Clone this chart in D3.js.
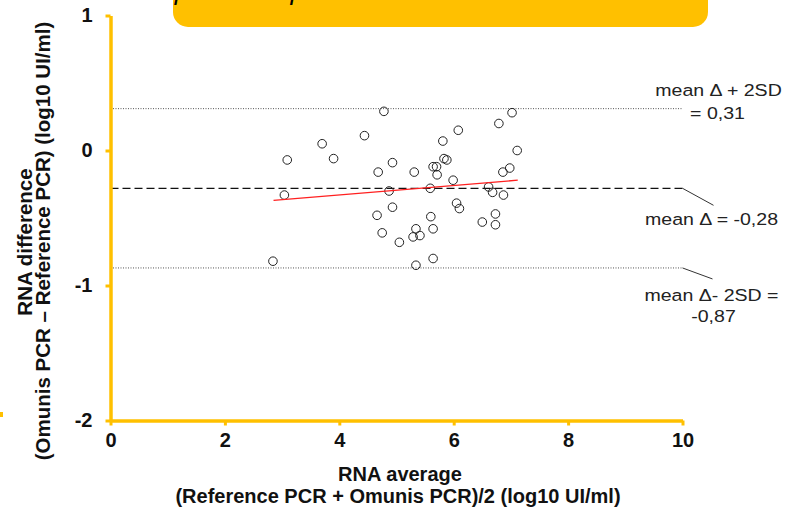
<!DOCTYPE html>
<html>
<head>
<meta charset="utf-8">
<script src="https://cdn.jsdelivr.net/npm/d3@7"></script>
<style>
  body { margin: 0; background: #fff; }
  svg { display: block; font-family: Arial, "Liberation Sans", sans-serif; }
</style>
</head>
<body>
<div id="viz"></div>
<script>
// data
var xAvg = [2.84, 3.04, 3.09, 3.70, 3.90, 4.44, 4.78, 4.68, 4.93, 4.87, 4.93, 4.66, 4.75, 5.05,
            5.31, 5.34, 5.29, 5.41, 5.34, 5.59, 5.60, 5.64, 5.64, 5.64, 5.71, 5.70, 5.81, 5.83,
            5.88, 5.99, 6.05, 6.10, 6.08, 6.50, 6.61, 6.68, 6.73, 6.73, 6.79, 6.87, 6.86, 6.98,
            7.02, 7.11];
var yDiff = [-0.82, -0.33, -0.07, 0.05, -0.06, 0.11, 0.29, -0.16, -0.09, -0.30, -0.42, -0.48, -0.61, -0.68,
             -0.16, -0.58, -0.64, -0.63, -0.85, -0.28, -0.49, -0.58, -0.80, -0.12, -0.18, -0.12, 0.07, -0.06,
             -0.07, -0.22, -0.39, -0.43, 0.15, -0.53, -0.27, -0.31, -0.47, -0.55, 0.20, -0.33, -0.16, -0.13,
             0.28, 0.00];
var regX = [2.85, 7.12];
var regY = [-0.37, -0.22];
var meanDiff = -0.28;
var upperLoA = 0.31;
var lowerLoA = -0.87;
var xTicks = [0, 2, 4, 6, 8, 10];
var yTicks = [-2, -1, 0, 1];
var titleText = "Comparaison quantitative Omunis vs PCR de référence";

var W = 797, H = 513;
var orange = "#FFC000";

var svg = d3.select("#viz").append("svg").attr("width", W).attr("height", H);

var x = d3.scaleLinear().domain([0, 10]).range([110.5, 682.5]);
var y = d3.scaleLinear().domain([-2, 1]).range([420.5, 15.5]);

// banner at top (cut off by the frame)
svg.append("rect").attr("x", 173).attr("y", -30).attr("width", 535).attr("height", 57)
  .attr("rx", 15).attr("fill", orange);
svg.append("text").attr("x", 440).attr("y", -0.5).attr("text-anchor", "middle")
  .attr("font-size", 26).attr("font-style", "italic").attr("fill", "#000").text(titleText);

// small mark at the left edge
svg.append("rect").attr("x", 0).attr("y", 412).attr("width", 3).attr("height", 5).attr("fill", orange);

// reference lines
function refLine(v, dash, color, w) {
  svg.append("line").attr("x1", x(0)).attr("x2", x(10)).attr("y1", y(v)).attr("y2", y(v))
    .attr("stroke", color).attr("stroke-width", w).attr("stroke-dasharray", dash);
}
refLine(upperLoA, "1,1.5", "#555", 1);
refLine(lowerLoA, "1,1.5", "#555", 1);
refLine(meanDiff, "8,4", "#111", 1.3);

// leaders
svg.append("line").attr("x1", x(10)).attr("y1", y(meanDiff)).attr("x2", x(10) + 31).attr("y2", y(meanDiff) + 17)
  .attr("stroke", "#333").attr("stroke-width", 1);
svg.append("line").attr("x1", x(10)).attr("y1", y(lowerLoA)).attr("x2", x(10) + 30).attr("y2", y(lowerLoA) + 11)
  .attr("stroke", "#333").attr("stroke-width", 1);

// annotation labels
function note(txt, cx, by) {
  svg.append("text").attr("transform", "translate(" + cx + "," + by + ") scale(1.15,1)")
    .attr("text-anchor", "middle").attr("font-size", 17).attr("fill", "#222").text(txt);
}
note("mean \u0394 + 2SD", x(10) + 36, y(upperLoA) - 13);
note("= 0,31", x(10) + 35, y(upperLoA) + 10);
note("mean \u0394 = -0,28", x(10) + 29, y(meanDiff) + 37);
note("mean \u0394- 2SD =", x(10) + 29, y(lowerLoA) + 33);
note("-0,87", x(10) + 31, y(lowerLoA) + 54);

// points
svg.append("g").selectAll("circle").data(xAvg).enter().append("circle")
  .attr("cx", function(d) { return x(d); })
  .attr("cy", function(d, i) { return y(yDiff[i]); })
  .attr("r", 4.3).attr("fill", "none").attr("stroke", "#222").attr("stroke-width", 1);

// regression line
svg.append("line").attr("x1", x(regX[0])).attr("y1", y(regY[0])).attr("x2", x(regX[1])).attr("y2", y(regY[1]))
  .attr("stroke", "#ff2020").attr("stroke-width", 1.3);

// axes
var fmt = function(d) { return String(d); };
var xAxis = svg.append("g").attr("transform", "translate(0," + y(-2) + ")")
  .call(d3.axisBottom(x).tickValues(xTicks).tickFormat(fmt).tickSize(5).tickSizeOuter(0).tickPadding(7));
var yAxis = svg.append("g").attr("transform", "translate(" + x(0) + ",0)")
  .call(d3.axisLeft(y).tickValues(yTicks).tickFormat(fmt).tickSize(5).tickSizeOuter(0).tickPadding(13));

[xAxis, yAxis].forEach(function(a) {
  a.select(".domain").attr("stroke", orange).attr("stroke-width", 3.5);
  a.selectAll(".tick line").attr("stroke", orange).attr("stroke-width", 3);
  a.selectAll(".tick text").attr("fill", "#111").attr("font-size", 20).attr("font-weight", "bold")
    .attr("font-family", "Arial, 'Liberation Sans', sans-serif");
});

// axis titles
svg.append("text").attr("x", 400).attr("y", 480.5).attr("text-anchor", "middle")
  .attr("font-size", 20).attr("font-weight", "bold").attr("fill", "#111").text("RNA average");
svg.append("text").attr("x", 398).attr("y", 502.5).attr("text-anchor", "middle")
  .attr("font-size", 20).attr("font-weight", "bold").attr("fill", "#111")
  .text("(Reference PCR + Omunis PCR)/2  (log10 UI/ml)");

svg.append("text").attr("transform", "translate(32,242) rotate(-90)").attr("text-anchor", "middle")
  .attr("font-size", 20.5).attr("font-weight", "bold").attr("fill", "#111").text("RNA difference");
svg.append("text").attr("transform", "translate(50,241) rotate(-90)").attr("text-anchor", "middle")
  .attr("font-size", 20.5).attr("font-weight", "bold").attr("fill", "#111")
  .text("(Omunis PCR \u2013 Reference PCR)  (log10 UI/ml)");
</script>
</body>
</html>
